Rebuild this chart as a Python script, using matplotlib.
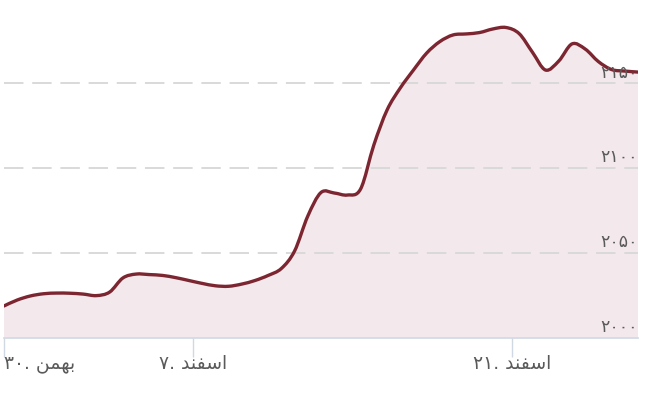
import numpy as np
import matplotlib.pyplot as plt
from matplotlib.path import Path
from matplotlib.patches import PathPatch

# price readings (one per sample step)
values = [2018.6, 2022.1, 2024.5, 2025.8, 2026.2, 2026.1, 2025.6, 2024.7, 2026.8, 2035.1,
          2037.4, 2037.1, 2036.6, 2035.3, 2033.6, 2031.9, 2030.5, 2030.2, 2031.5, 2033.6,
          2036.6, 2040.7, 2051.0, 2071.6, 2085.5, 2085.2, 2084.0, 2087.6, 2113.5, 2134.1,
          2147.1, 2157.7, 2167.7, 2174.5, 2178.4, 2179.0, 2179.8, 2181.9, 2182.8, 2179.2,
          2168.3, 2157.7, 2163.0, 2173.1, 2170.1, 2162.7, 2158.0, 2157.1, 2156.5]
steps = np.arange(len(values))

# x tick labels (visual order, Persian glyph forms)
xtick_pos = [0, 14.3, 38.46]
xtick_labels = ["\u06f3\u06f0. \ufee6\ufee4\ufeec\ufe91",
                "\u06f7. \ufeaa\ufee8\ufed4\ufeb3\ufe8d",
                "\u06f2\u06f1. \ufeaa\ufee8\ufed4\ufeb3\ufe8d"]
ytick_vals = [2000, 2050, 2100, 2150]
ytick_labels = ["\u06f2\u06f0\u06f0\u06f0", "\u06f2\u06f0\u06f5\u06f0",
                "\u06f2\u06f1\u06f0\u06f0", "\u06f2\u06f1\u06f5\u06f0"]

line_c = "#7c2631"
fill_c = "#f3e8eb"
grid_c = "#d9d9d9"
axis_c = "#cfd8e3"
text_c = "#5a5a5a"


def smooth_path(x, y):
    # catmull-rom through the points, written as cubic bezier segments
    pts = np.column_stack([x, y]).astype(float)
    verts = [pts[0]]
    codes = [Path.MOVETO]
    n = len(pts)
    for i in range(n - 1):
        p0 = pts[max(i - 1, 0)]
        p1 = pts[i]
        p2 = pts[i + 1]
        p3 = pts[min(i + 2, n - 1)]
        verts += [p1 + (p2 - p0) / 6, p2 - (p3 - p1) / 6, p2]
        codes += [Path.CURVE4] * 3
    return verts, codes


fig = plt.figure(figsize=(6.53, 4.01), dpi=100)
ax = fig.add_axes([4/653, 1 - 337.5/401, 634/653, 337.5/401])
ax.set_xlim(0, len(values) - 1)
ax.set_ylim(2000, 2199)

verts, codes = smooth_path(steps, values)
fill_verts = verts + [(steps[-1], 2000), (steps[0], 2000), verts[0]]
fill_codes = codes + [Path.LINETO, Path.LINETO, Path.CLOSEPOLY]
ax.add_patch(PathPatch(Path(fill_verts, fill_codes), facecolor=fill_c, lw=0, zorder=1))

for v in ytick_vals[1:]:
    ax.axhline(v, color=grid_c, lw=1.4, dashes=(10, 4.5), zorder=2)

ax.add_patch(PathPatch(Path(verts, codes), facecolor="none", edgecolor=line_c,
                       lw=2.4, capstyle="round", joinstyle="round", zorder=3))

for v, lab in zip(ytick_vals, ytick_labels):
    ax.text(1.0, v + 6.2, lab, transform=ax.get_yaxis_transform(), ha="right",
            va="center", fontsize=12.5, color=text_c, family="DejaVu Sans", zorder=4)

for s in ["top", "right", "left"]:
    ax.spines[s].set_visible(False)
ax.spines["bottom"].set_color(axis_c)
ax.spines["bottom"].set_linewidth(1.2)
ax.set_yticks([])
ax.set_xticks(xtick_pos)
ax.set_xticklabels(xtick_labels, fontsize=13.5, color=text_c, family="DejaVu Sans")
ax.tick_params(axis="x", length=14, width=1, color=axis_c, pad=-2)
ax.get_xticklabels()[0].set_horizontalalignment("left")

fig.savefig("out.png", dpi=100)
